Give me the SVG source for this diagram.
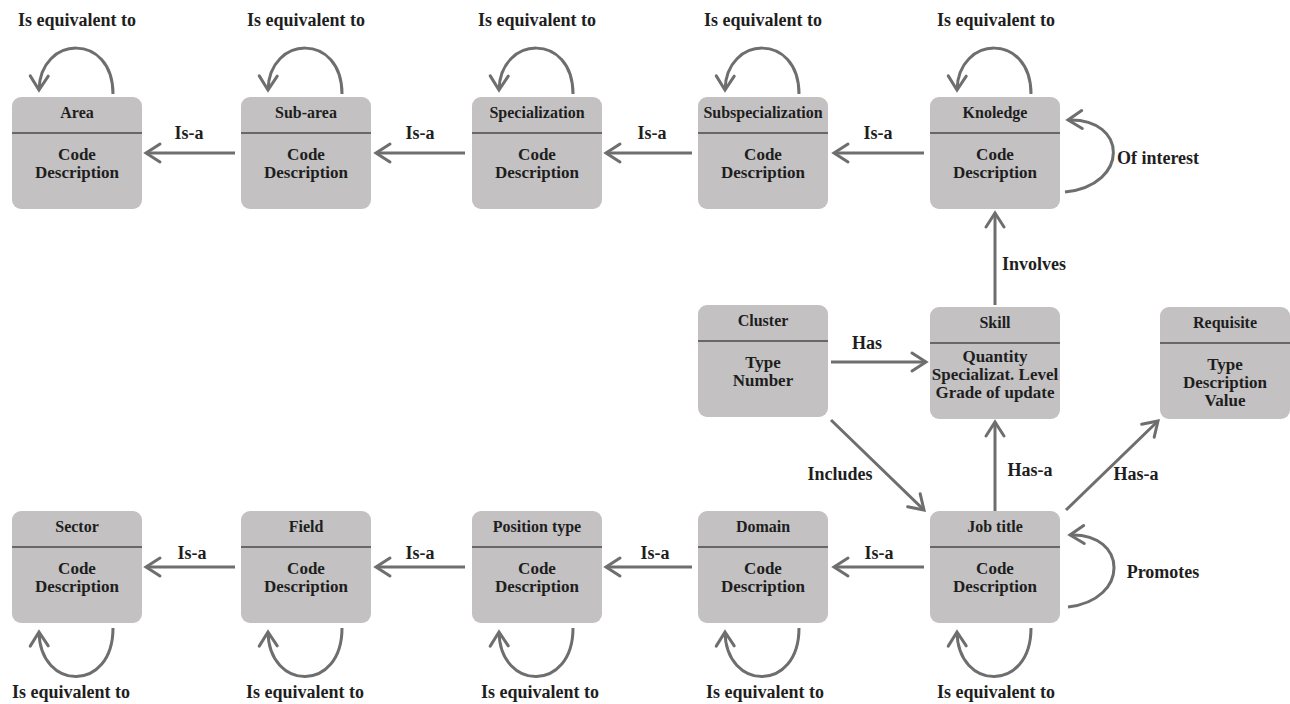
<svg xmlns="http://www.w3.org/2000/svg" width="1290" height="704" viewBox="0 0 1290 704">
  <defs>
    <marker id="arrow" viewBox="-3 -3 20 24" refX="14" refY="9" markerWidth="20" markerHeight="24" markerUnits="userSpaceOnUse" orient="auto">
      <path d="M0,0 L14,9 L0,18" fill="none" stroke="#6e6e6e" stroke-width="3" stroke-linecap="round"/>
    </marker>
    <style>
      .box { fill: #c3c1c2; }
      .div { stroke: #4a4a4a; stroke-width: 1.3; }
      .title { font-family: "Liberation Serif", serif; font-weight: bold; font-size: 16px; fill: #1e1e1e; text-anchor: middle; }
      .body { font-family: "Liberation Serif", serif; font-weight: bold; font-size: 17px; fill: #1e1e1e; text-anchor: middle; }
      .lbl { font-family: "Liberation Serif", serif; font-weight: bold; font-size: 18px; fill: #1e1e1e; text-anchor: middle; }
      .edge { fill: none; stroke: #6e6e6e; stroke-width: 3; marker-end: url(#arrow); }
    </style>
    <!-- standard entity card: 130 x 112, header band 36 high -->
    <g id="card">
      <rect class="box" x="0" y="0" width="130" height="112" rx="9"/>
      <line class="div" x1="0" y1="36" x2="130" y2="36"/>
    </g>
  </defs>

  <!-- top row -->
  <g id="area" transform="translate(12,97)">
    <use href="#card"/>
    <text class="title" x="65" y="21">Area</text>
    <text class="body" x="65" y="63">Code</text>
    <text class="body" x="65" y="81">Description</text>
  </g>
  <g id="sub-area" transform="translate(241,97)">
    <use href="#card"/>
    <text class="title" x="65" y="21">Sub-area</text>
    <text class="body" x="65" y="63">Code</text>
    <text class="body" x="65" y="81">Description</text>
  </g>
  <g id="specialization" transform="translate(472,97)">
    <use href="#card"/>
    <text class="title" x="65" y="21">Specialization</text>
    <text class="body" x="65" y="63">Code</text>
    <text class="body" x="65" y="81">Description</text>
  </g>
  <g id="subspecialization" transform="translate(698,97)">
    <use href="#card"/>
    <text class="title" x="65" y="21">Subspecialization</text>
    <text class="body" x="65" y="63">Code</text>
    <text class="body" x="65" y="81">Description</text>
  </g>
  <g id="knoledge" transform="translate(930,97)">
    <use href="#card"/>
    <text class="title" x="65" y="21">Knoledge</text>
    <text class="body" x="65" y="63">Code</text>
    <text class="body" x="65" y="81">Description</text>
  </g>

  <!-- middle row -->
  <g id="cluster" transform="translate(698,305)">
    <use href="#card"/>
    <text class="title" x="65" y="21">Cluster</text>
    <text class="body" x="65" y="63">Type</text>
    <text class="body" x="65" y="81">Number</text>
  </g>
  <g id="skill" transform="translate(930,307)">
    <use href="#card"/>
    <text class="title" x="65" y="21">Skill</text>
    <text class="body" x="65" y="55">Quantity</text>
    <text class="body" x="65" y="73">Specializat. Level</text>
    <text class="body" x="65" y="91">Grade of update</text>
  </g>
  <g id="requisite" transform="translate(1160,307)">
    <use href="#card"/>
    <text class="title" x="65" y="21">Requisite</text>
    <text class="body" x="65" y="63">Type</text>
    <text class="body" x="65" y="81">Description</text>
    <text class="body" x="65" y="99">Value</text>
  </g>

  <!-- bottom row -->
  <g id="sector" transform="translate(12,511)">
    <use href="#card"/>
    <text class="title" x="65" y="21">Sector</text>
    <text class="body" x="65" y="63">Code</text>
    <text class="body" x="65" y="81">Description</text>
  </g>
  <g id="field" transform="translate(241,511)">
    <use href="#card"/>
    <text class="title" x="65" y="21">Field</text>
    <text class="body" x="65" y="63">Code</text>
    <text class="body" x="65" y="81">Description</text>
  </g>
  <g id="position-type" transform="translate(472,511)">
    <use href="#card"/>
    <text class="title" x="65" y="21">Position type</text>
    <text class="body" x="65" y="63">Code</text>
    <text class="body" x="65" y="81">Description</text>
  </g>
  <g id="domain" transform="translate(698,511)">
    <use href="#card"/>
    <text class="title" x="65" y="21">Domain</text>
    <text class="body" x="65" y="63">Code</text>
    <text class="body" x="65" y="81">Description</text>
  </g>
  <g id="job-title" transform="translate(930,511)">
    <use href="#card"/>
    <text class="title" x="65" y="21">Job title</text>
    <text class="body" x="65" y="63">Code</text>
    <text class="body" x="65" y="81">Description</text>
  </g>

  <!-- connectors -->
  <g id="connectors">
    <!-- top row Is-a chain -->
    <path class="edge" d="M235,153 H146"/>
    <path class="edge" d="M465,153 H376"/>
    <path class="edge" d="M692,153 H606"/>
    <path class="edge" d="M924,153 H834"/>
    <!-- bottom row Is-a chain -->
    <path class="edge" d="M235,567 H146"/>
    <path class="edge" d="M465,567 H376"/>
    <path class="edge" d="M692,567 H606"/>
    <path class="edge" d="M924,567 H834"/>

    <!-- self loops above the top row -->
    <path class="edge" d="M113,94 C113,32 40,35 39,90"/>
    <path class="edge" d="M342,94 C342,32 269,35 268,90"/>
    <path class="edge" d="M573,94 C573,32 500,35 499,90"/>
    <path class="edge" d="M799,94 C799,32 726,35 725,90"/>
    <path class="edge" d="M1031,94 C1031,32 958,35 957,90"/>

    <!-- self loops below the bottom row -->
    <path class="edge" d="M113,628 C113,693 40,691 39,632"/>
    <path class="edge" d="M342,628 C342,693 269,691 268,632"/>
    <path class="edge" d="M573,628 C573,693 500,691 499,632"/>
    <path class="edge" d="M799,628 C799,693 726,691 725,632"/>
    <path class="edge" d="M1031,628 C1031,693 958,691 957,632"/>

    <!-- Knoledge: Of interest -->
    <path class="edge" d="M1065,192 C1130,185 1128,118 1068,120"/>
    <!-- Job title: Promotes -->
    <path class="edge" d="M1068,607 C1130,600 1128,533 1070,535"/>

    <!-- Skill involves Knoledge -->
    <path class="edge" d="M995,305 V213"/>
    <!-- Cluster has Skill -->
    <path class="edge" d="M831,362 H926"/>
    <!-- Cluster includes Job title -->
    <path class="edge" d="M831,420 L924,510"/>
    <!-- Job title has-a Skill -->
    <path class="edge" d="M995,511 V422"/>
    <!-- Job title has-a Requisite -->
    <path class="edge" d="M1066,510 L1158,421"/>
  </g>

  <!-- connector labels -->
  <g id="labels">
    <text class="lbl" x="77" y="26">Is equivalent to</text>
    <text class="lbl" x="306" y="26">Is equivalent to</text>
    <text class="lbl" x="537" y="26">Is equivalent to</text>
    <text class="lbl" x="763" y="26">Is equivalent to</text>
    <text class="lbl" x="996" y="26">Is equivalent to</text>

    <text class="lbl" x="71" y="698">Is equivalent to</text>
    <text class="lbl" x="305" y="698">Is equivalent to</text>
    <text class="lbl" x="540" y="698">Is equivalent to</text>
    <text class="lbl" x="765" y="698">Is equivalent to</text>
    <text class="lbl" x="996" y="698">Is equivalent to</text>

    <text class="lbl" x="189" y="139">Is-a</text>
    <text class="lbl" x="420" y="139">Is-a</text>
    <text class="lbl" x="652" y="139">Is-a</text>
    <text class="lbl" x="878" y="139">Is-a</text>

    <text class="lbl" x="192" y="559">Is-a</text>
    <text class="lbl" x="420" y="559">Is-a</text>
    <text class="lbl" x="655" y="559">Is-a</text>
    <text class="lbl" x="879" y="559">Is-a</text>

    <text class="lbl" x="1158" y="164">Of interest</text>
    <text class="lbl" x="1163" y="578">Promotes</text>
    <text class="lbl" x="1034" y="270">Involves</text>
    <text class="lbl" x="867" y="349">Has</text>
    <text class="lbl" x="840" y="480">Includes</text>
    <text class="lbl" x="1030" y="476">Has-a</text>
    <text class="lbl" x="1136" y="480">Has-a</text>
  </g>
</svg>
